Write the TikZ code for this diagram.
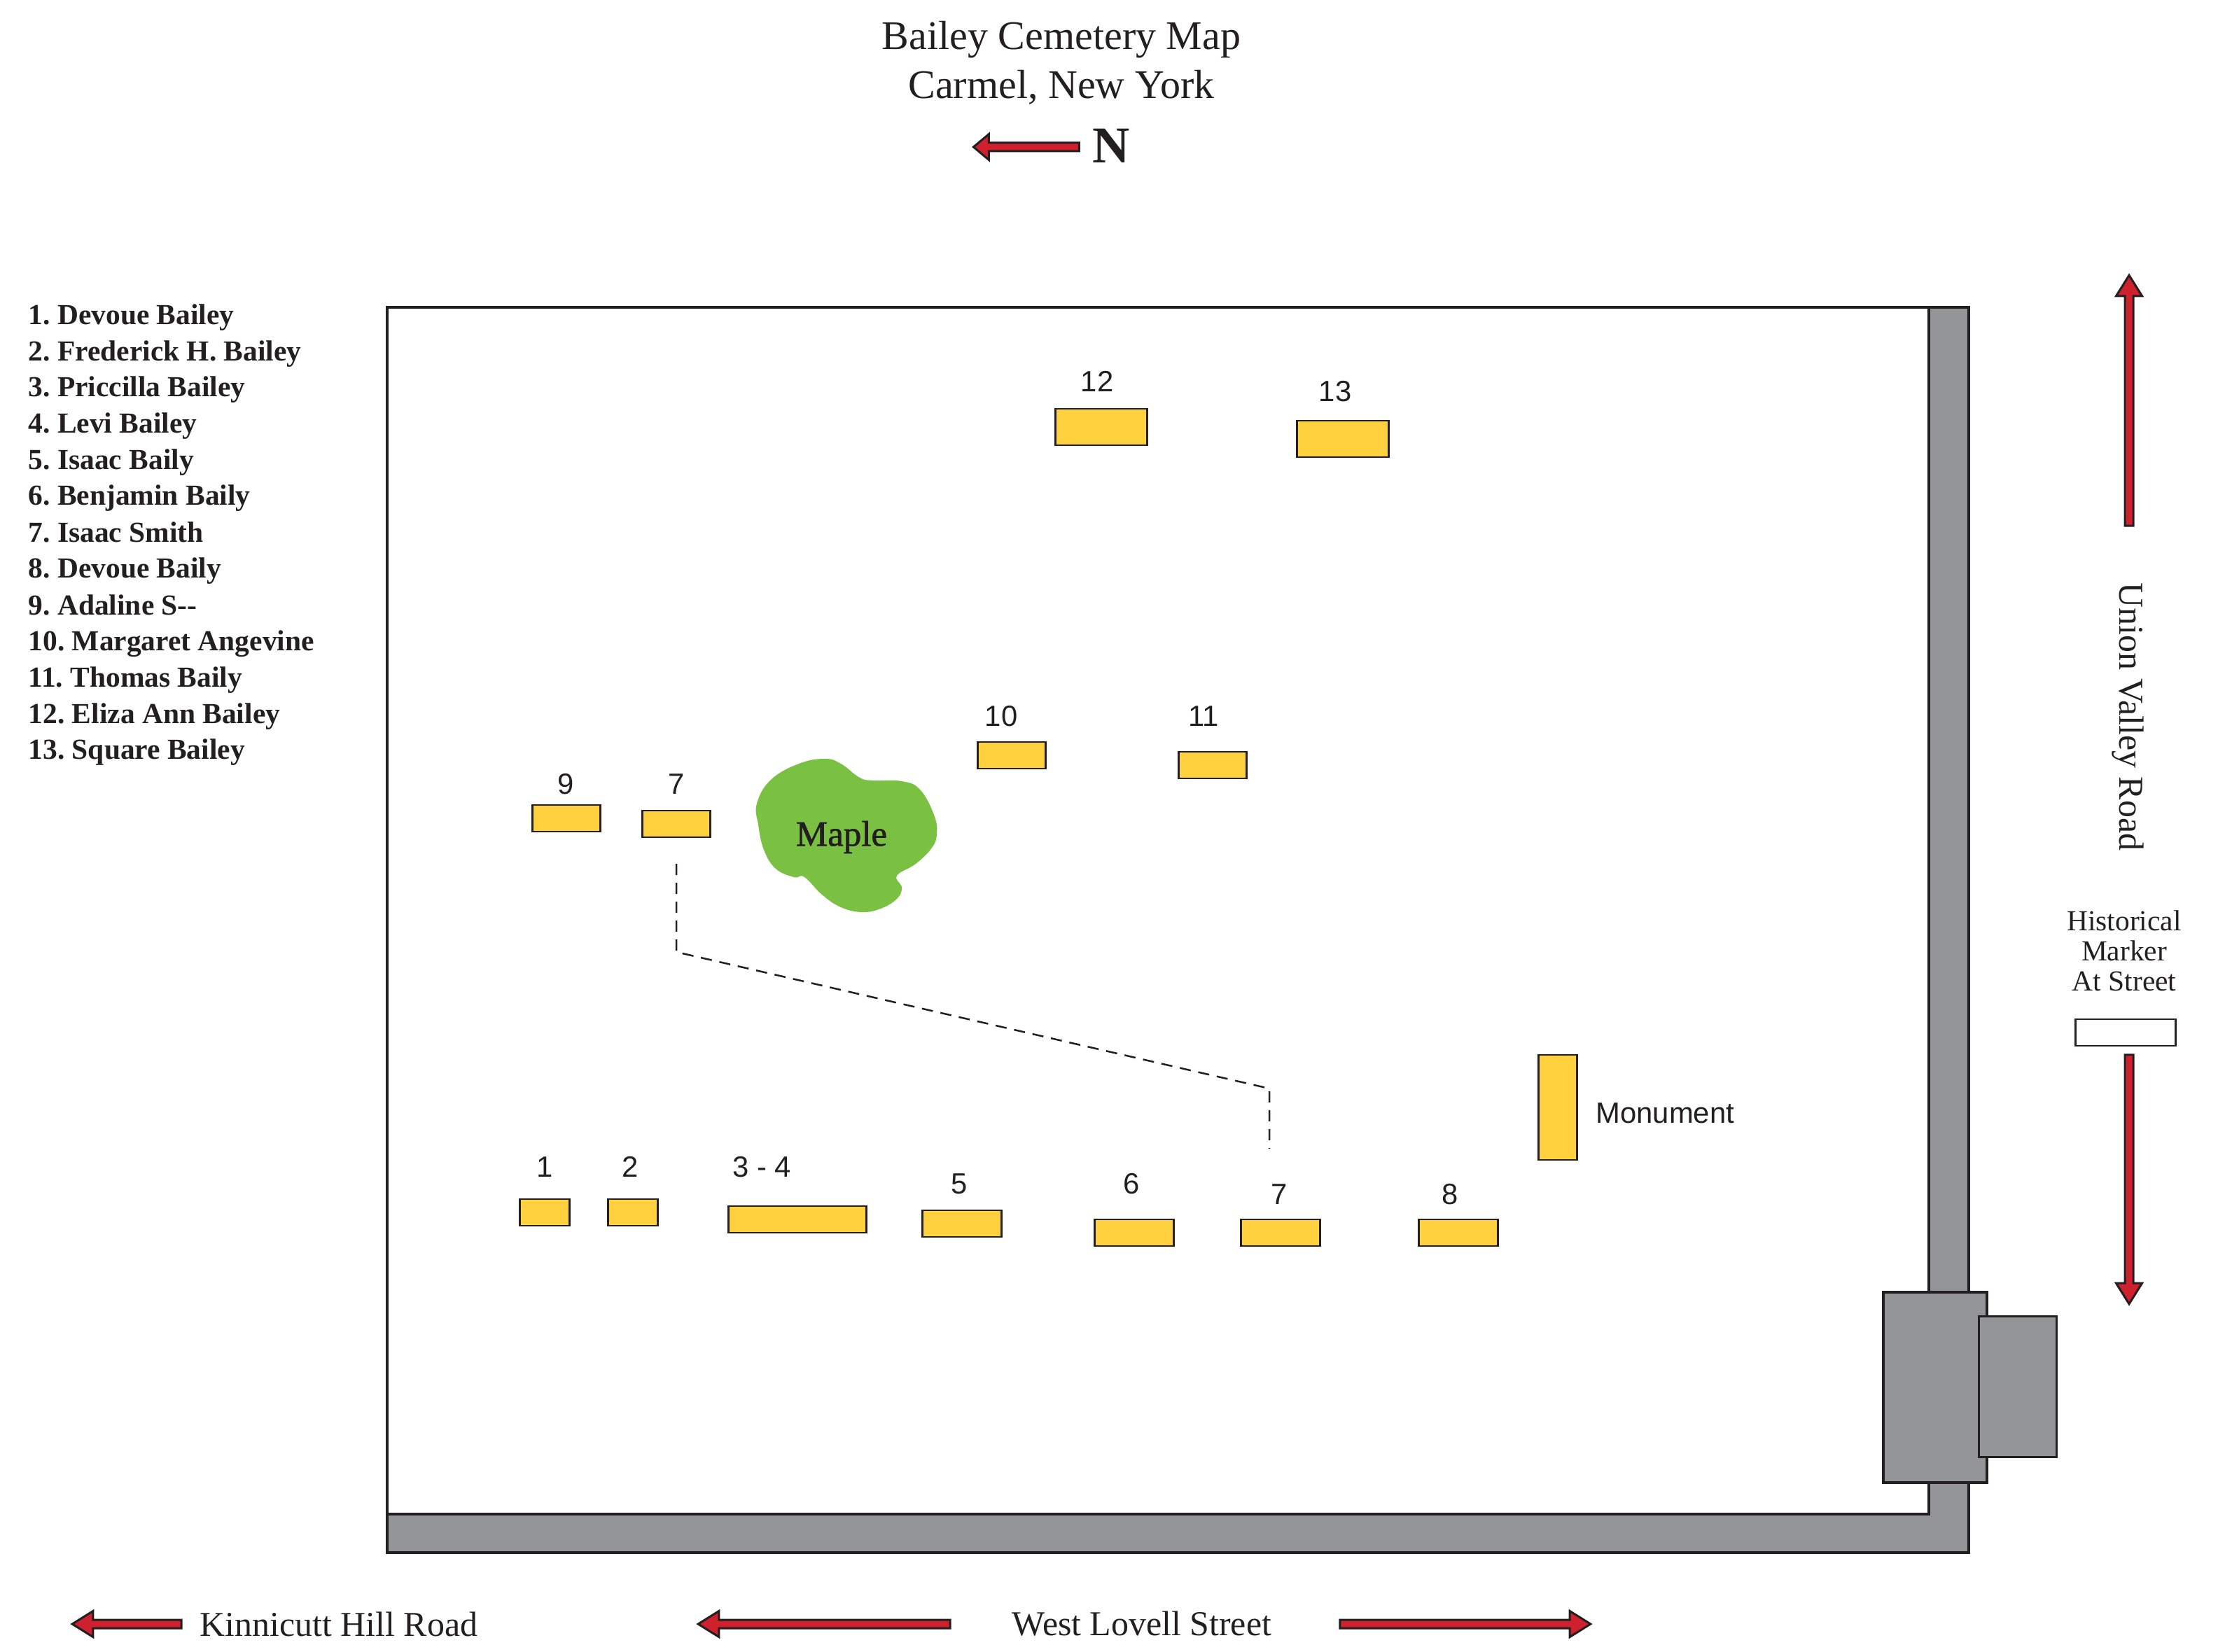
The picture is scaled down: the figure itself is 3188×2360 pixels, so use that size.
\documentclass[tikz,border=0pt]{standalone}
\usepackage{fontspec}
\setmainfont{Liberation Serif}
\newfontfamily\labelfont{Liberation Sans}
\newfontfamily\maplefont[FakeBold=1.2]{Liberation Serif}
\usetikzlibrary{shapes.arrows}
\frenchspacing

\definecolor{inkc}{HTML}{231F20}
\definecolor{wallc}{HTML}{939598}
\definecolor{stonec}{HTML}{FFD13F}
\definecolor{treec}{HTML}{7AC143}
\definecolor{arrowc}{HTML}{CF202E}

\tikzset{
  wall/.style={draw=inkc, line width=0.38mm},
  gate/.style={wall, fill=wallc, inner sep=0, minimum width=#1},
  grave/.style n args={2}{draw=inkc, fill=stonec, line width=0.27mm, inner sep=0, minimum width=#1, minimum height=#2},
  roadarrow/.style={single arrow, draw=inkc, fill=arrowc, line width=0.3mm, inner xsep=0, inner ysep=0.45mm, outer sep=0,
    single arrow head extend=1.25mm, single arrow tip angle=64, minimum height=#1},
  titletext/.style={text=inkc, anchor=base, font=\fontsize{16.5}{20}\selectfont},
  roadtext/.style={text=inkc, font=\fontsize{14.2}{17}\selectfont},
  listtext/.style={text=inkc, anchor=base west, inner sep=0, font=\fontsize{11.8}{14}\selectfont\bfseries},
  numtext/.style={text=inkc, font=\labelfont\fontsize{11.9}{14}\selectfont},
  path/.style={draw=inkc, line width=0.25mm, dash pattern=on 1.6mm off 1.1mm}
}

\begin{document}
\begin{tikzpicture}[x=0.1mm, y=-0.1mm]
  \useasboundingbox (0,0) rectangle (3188,2360);

  % title and north arrow
  \node [titletext](title) at (1516,71) {Bailey Cemetery Map};
  \node [titletext](place) at (1516,141) {Carmel, New York};
  \node [roadarrow=15.1mm, rotate=180, single arrow tip angle=80](northarrow) at (1469.5,210) {};
  \node [text=inkc, anchor=base, font=\fontsize{21}{24}\selectfont\bfseries](north) at (1587,233) {N};

  % names
  \node [listtext](n1) at (40,464) {1. Devoue Bailey};
  \node [listtext](n2) at (40,516) {2. Frederick H. Bailey};
  \node [listtext](n3) at (40,567) {3. Priccilla Bailey};
  \node [listtext](n4) at (40,619) {4. Levi Bailey};
  \node [listtext](n5) at (40,671) {5. Isaac Baily};
  \node [listtext](n6) at (40,722) {6. Benjamin Baily};
  \node [listtext](n7) at (40,774) {7. Isaac Smith};
  \node [listtext](n8) at (40,826) {8. Devoue Baily};
  \node [listtext](n9) at (40,878) {9. Adaline S-{}-};
  \node [listtext](n10) at (40,929) {10. Margaret Angevine};
  \node [listtext](n11) at (40,981) {11. Thomas Baily};
  \node [listtext](n12) at (40,1033) {12. Eliza Ann Bailey};
  \node [listtext](n13) at (40,1084) {13. Square Bailey};

  % walls
  \draw [wall, fill=wallc] (553,439) rectangle (2812,2218);
  \draw [wall, fill=white] (553,439) rectangle (2755,2163);
  \node [gate=14.8mm, minimum height=27.2mm](gatebig) at (2764,1982) {};
  \node [gate=11.1mm, minimum height=20.1mm](gatesmall) at (2882,1981) {};

  % maple
  \fill [treec, shift={(1,1)}] plot [smooth cycle, tension=0.7] coordinates {
    (1080,1147) (1100,1113) (1140,1090) (1177,1083) (1200,1090) (1227,1110) (1247,1114)
    (1287,1115) (1313,1127) (1333,1163) (1337,1190) (1330,1210) (1307,1233) (1280,1250)
    (1287,1267) (1280,1283) (1257,1297) (1230,1302) (1200,1295) (1173,1277) (1148,1252)
    (1133,1252) (1107,1240) (1090,1213) (1082,1177)};
  \node [text=inkc, font=\maplefont\fontsize{14.5}{17}\selectfont](maple) at (1202,1196) {Maple};

  % graves
  \node [grave={13.1mm}{5.2mm}](g12) at (1573,610) {};
  \node [grave={13.1mm}{5.2mm}](g13) at (1918,627) {};
  \node [grave={9.7mm}{3.8mm}](g10) at (1445,1079) {};
  \node [grave={9.7mm}{3.8mm}](g11) at (1732,1093) {};
  \node [grave={9.7mm}{3.8mm}](g9) at (809,1169) {};
  \node [grave={9.7mm}{3.8mm}](g7a) at (966,1177) {};
  \node [grave={5.5mm}{15mm}](monument) at (2225,1582) {};
  \node [grave={7.1mm}{3.8mm}](g1) at (778,1732) {};
  \node [grave={7.1mm}{3.8mm}](g2) at (904,1732) {};
  \node [grave={19.7mm}{3.8mm}](g34) at (1139,1742) {};
  \node [grave={11.3mm}{3.8mm}](g5) at (1374,1748) {};
  \node [grave={11.3mm}{3.8mm}](g6) at (1620,1761) {};
  \node [grave={11.3mm}{3.8mm}](g7b) at (1829,1761) {};
  \node [grave={11.3mm}{3.8mm}](g8) at (2083,1761) {};

  \node [numtext](l12) at (1567,545) {12};
  \node [numtext](l13) at (1907,559) {13};
  \node [numtext](l10) at (1430,1023) {10};
  \node [numtext](l11) at (1719,1023) {11};
  \node [numtext](l9) at (808,1120) {9};
  \node [numtext](l7a) at (966,1120) {7};
  \node [numtext](l1) at (778,1667) {1};
  \node [numtext](l2) at (900,1667) {2};
  \node [numtext](l34) at (1088,1667) {3 - 4};
  \node [numtext](l5) at (1370,1691) {5};
  \node [numtext](l6) at (1616,1691) {6};
  \node [numtext](l7b) at (1827,1706) {7};
  \node [numtext](l8) at (2071,1706) {8};
  \node [numtext, anchor=west](lmon) at (2267,1590) {Monument};

  % walk between the two 7s
  \coordinate (pa) at (966,1234);
  \coordinate (pb) at (966,1360);
  \coordinate (pc) at (1813,1555);
  \coordinate (pd) at (1813,1641);
  \draw [path] (pa) -- (pb) -- (pc) -- (pd);

  % roads
  \node [roadarrow=35.8mm, rotate=90](unionup) at (3041,577) {};
  \node [roadtext, rotate=-90](union) at (3039,1024) {Union Valley Road};
  \node [text=inkc, align=center, font=\fontsize{11.8}{12.2}\selectfont](marker) at (3034,1358) {Historical\\Marker\\At Street};
  \node [draw=inkc, fill=white, line width=0.27mm, inner sep=0, minimum width=14.3mm, minimum height=3.8mm](markerbox) at (3036,1475) {};
  \node [roadarrow=35.6mm, rotate=-90](uniondown) at (3041,1680) {};

  \node [roadarrow=15.6mm, rotate=180](kinnarrow) at (186,2320) {};
  \node [roadtext](kinn) at (484,2320) {Kinnicutt Hill Road};
  \node [roadarrow=36mm, rotate=180](lovellleft) at (1182,2320) {};
  \node [roadtext](lovell) at (1631,2320) {West Lovell Street};
  \node [roadarrow=35.8mm](lovellright) at (2088,2320) {};
\end{tikzpicture}
\end{document}
